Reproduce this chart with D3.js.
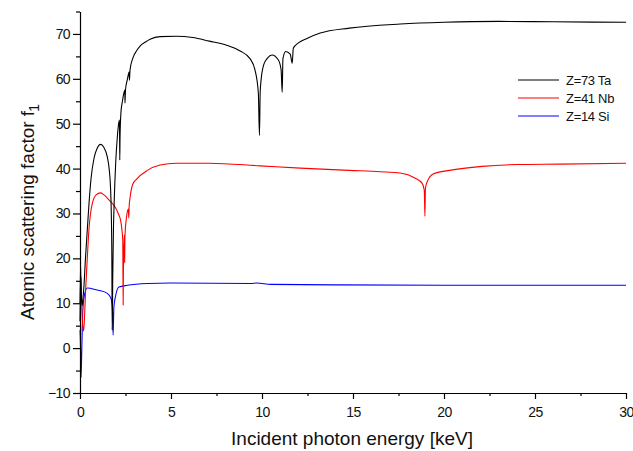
<!DOCTYPE html>
<html><head><meta charset="utf-8">
<script src="https://cdn.jsdelivr.net/npm/d3@7"></script>
<style>
body{margin:0;background:#fff;}
svg{display:block;font-family:"Liberation Sans",Arial,sans-serif;}
</style></head>
<body>
<svg id="chart" width="633" height="451"></svg>
<script>
// ---- data ----
const taEnergy = [0.0,0.02,0.05,0.08,0.12,0.16,0.22,0.3,0.4,0.5,0.6,0.77,0.95,1.13,1.3,1.5,1.6,1.68,1.72,1.75,1.77,1.8,1.84,1.87,1.96,2.05,2.14,2.17,2.185,2.2,2.25,2.33,2.42,2.465,2.47,2.5,2.6,2.68,2.705,2.715,2.75,2.93,3.1,3.3,3.6,3.85,4.4,5.3,6.2,7.1,8.06,8.8,9.34,9.62,9.8,9.86,9.9,9.95,10.1,10.3,10.55,10.9,11.05,11.11,11.15,11.3,11.55,11.66,11.72,12.0,12.47,13.2,14.8,17.6,20,23,26,30];
const taF1     = [6,12,16,11,9.5,11,14,20,26.3,32.5,37.5,42.3,44.6,45.4,44.8,42.6,40,35.5,30,20,4,16,27,31.5,41.2,47,50.4,50.8,41.9,47,52.5,55,57,57.5,54.6,57.5,59.8,61.3,61.5,59.7,62,64.9,66.2,67.3,68.2,68.8,69.4,69.5,69.2,68.4,67.5,66.2,64.5,61.9,56.8,47.4,57,59.7,63.2,64.6,65.3,64.2,62,57,64.5,66.1,65.5,63.5,66.8,68,69,70.2,71.3,72.2,72.6,72.8,72.7,72.6];

const nbEnergy = [0.0,0.03,0.06,0.1,0.15,0.2,0.25,0.31,0.4,0.49,0.68,0.9,1.13,1.3,1.6,1.96,2.1,2.23,2.3,2.35,2.37,2.385,2.41,2.44,2.455,2.47,2.55,2.62,2.66,2.68,2.7,2.75,2.9,3.1,3.7,4.4,5.3,7.1,9.9,12.1,14.8,16.5,17.6,18.4,18.8,18.92,18.95,18.98,19.05,19.4,20.3,22.1,24,26.4,30];
const nbF1     = [10,18.5,14,9,5,3.8,7,13,20,26.3,32.3,34.2,34.6,34.2,33,31.2,30,28.5,26.5,24,9.6,17,22,25.2,19,25,29,30.7,31,29,31.5,33.5,36.5,37.6,39.6,40.8,41.2,41.2,40.6,40.1,39.6,39.3,39,37.9,36.7,35,29.4,35.5,36.8,38.8,39.6,40.5,40.9,41,41.2];

const siEnergy = [0.0,0.02,0.06,0.1,0.15,0.25,0.4,0.6,1.0,1.5,1.7,1.78,1.82,1.86,1.95,2.14,2.6,3.7,5,9.4,9.7,10.5,14,20,30];
const siF1     = [4,2,-6.5,0,8,12,13.4,13.3,12.9,12.2,11.1,9,2.9,9,11.5,13.6,14.0,14.4,14.5,14.4,14.5,14.2,14.1,14.0,14.0];

const seriesNames  = ["Z=73 Ta","Z=41 Nb","Z=14 Si"];
const seriesColors = ["#000000","#ff0000","#0000ff"];
const xMajorTicks = [0,5,10,15,20,25,30];
const xMinorTicks = [2.5,7.5,12.5,17.5,22.5,27.5];
const yMajorTicks = [-10,0,10,20,30,40,50,60,70];
const yMinorTicks = [-5,5,15,25,35,45,55,65,75];
const xTitle = "Incident photon energy [keV]";
const yTitle = "Atomic scattering factor f";
const yTitleSub = "1";

// ---- drawing ----
const svg = d3.select("#chart");
const x = d3.scaleLinear().domain([0,30]).range([80,626]);
const y = d3.scaleLinear().domain([-10,75]).range([393,11.5]);

const series = [
  {name:seriesNames[0], color:seriesColors[0], pts:taEnergy.map((e,i)=>[e,taF1[i]])},
  {name:seriesNames[1], color:seriesColors[1], pts:nbEnergy.map((e,i)=>[e,nbF1[i]])},
  {name:seriesNames[2], color:seriesColors[2], pts:siEnergy.map((e,i)=>[e,siF1[i]])}
];

const line = d3.line().curve(d3.curveMonotoneX).x(d=>x(d[0])).y(d=>y(d[1]));
// draw Si, then Nb, then Ta on top
[2,1,0].forEach(i=>{
  svg.append("path").datum(series[i].pts)
    .attr("d",line).attr("fill","none")
    .attr("stroke",series[i].color).attr("stroke-width",1.1)
    .attr("stroke-linejoin","miter");
});

// axes
svg.append("g").attr("transform","translate(0,393)")
  .call(d3.axisBottom(x).tickValues(xMajorTicks).tickSize(6).tickSizeOuter(0).tickPadding(8).tickFormat(d3.format("d")));
svg.append("g").attr("transform","translate(0,393)")
  .call(d3.axisBottom(x).tickValues(xMinorTicks).tickSize(3).tickSizeOuter(0).tickFormat(""))
  .select(".domain").remove();
svg.append("g").attr("transform","translate(80,0)")
  .call(d3.axisLeft(y).tickValues(yMajorTicks).tickSize(7).tickSizeOuter(0).tickPadding(3).tickFormat(d3.format("d")));
svg.append("g").attr("transform","translate(80,0)")
  .call(d3.axisLeft(y).tickValues(yMinorTicks).tickSize(4).tickSizeOuter(0).tickFormat(""))
  .select(".domain").remove();

svg.selectAll(".tick text").attr("font-size",14).attr("fill","#111")
  .attr("font-family","'Liberation Sans',Arial,sans-serif").attr("letter-spacing","-0.6");
svg.selectAll(".domain, .tick line").attr("stroke","#000").attr("stroke-width",1.2);

// axis titles
svg.append("text").attr("x",352).attr("y",445).attr("text-anchor","middle")
  .attr("font-size",19).attr("fill","#111").text(xTitle);
const yt = svg.append("text").attr("transform","translate(34,212) rotate(-90)")
  .attr("text-anchor","middle").attr("font-size",19).attr("fill","#111");
yt.append("tspan").text(yTitle);
yt.append("tspan").attr("dy",5).attr("dx",-1).attr("font-size",14).text(yTitleSub);

// legend
const lg = svg.append("g");
series.forEach((s,i)=>{
  const ly = 80 + i*18;
  lg.append("line").attr("x1",518).attr("x2",559).attr("y1",ly).attr("y2",ly)
    .attr("stroke",s.color).attr("stroke-width",1.1);
  lg.append("text").attr("x",566).attr("y",ly+4.5).attr("font-size",13)
    .attr("letter-spacing","-0.3").attr("fill","#111").text(s.name);
});
</script>
</body></html>
